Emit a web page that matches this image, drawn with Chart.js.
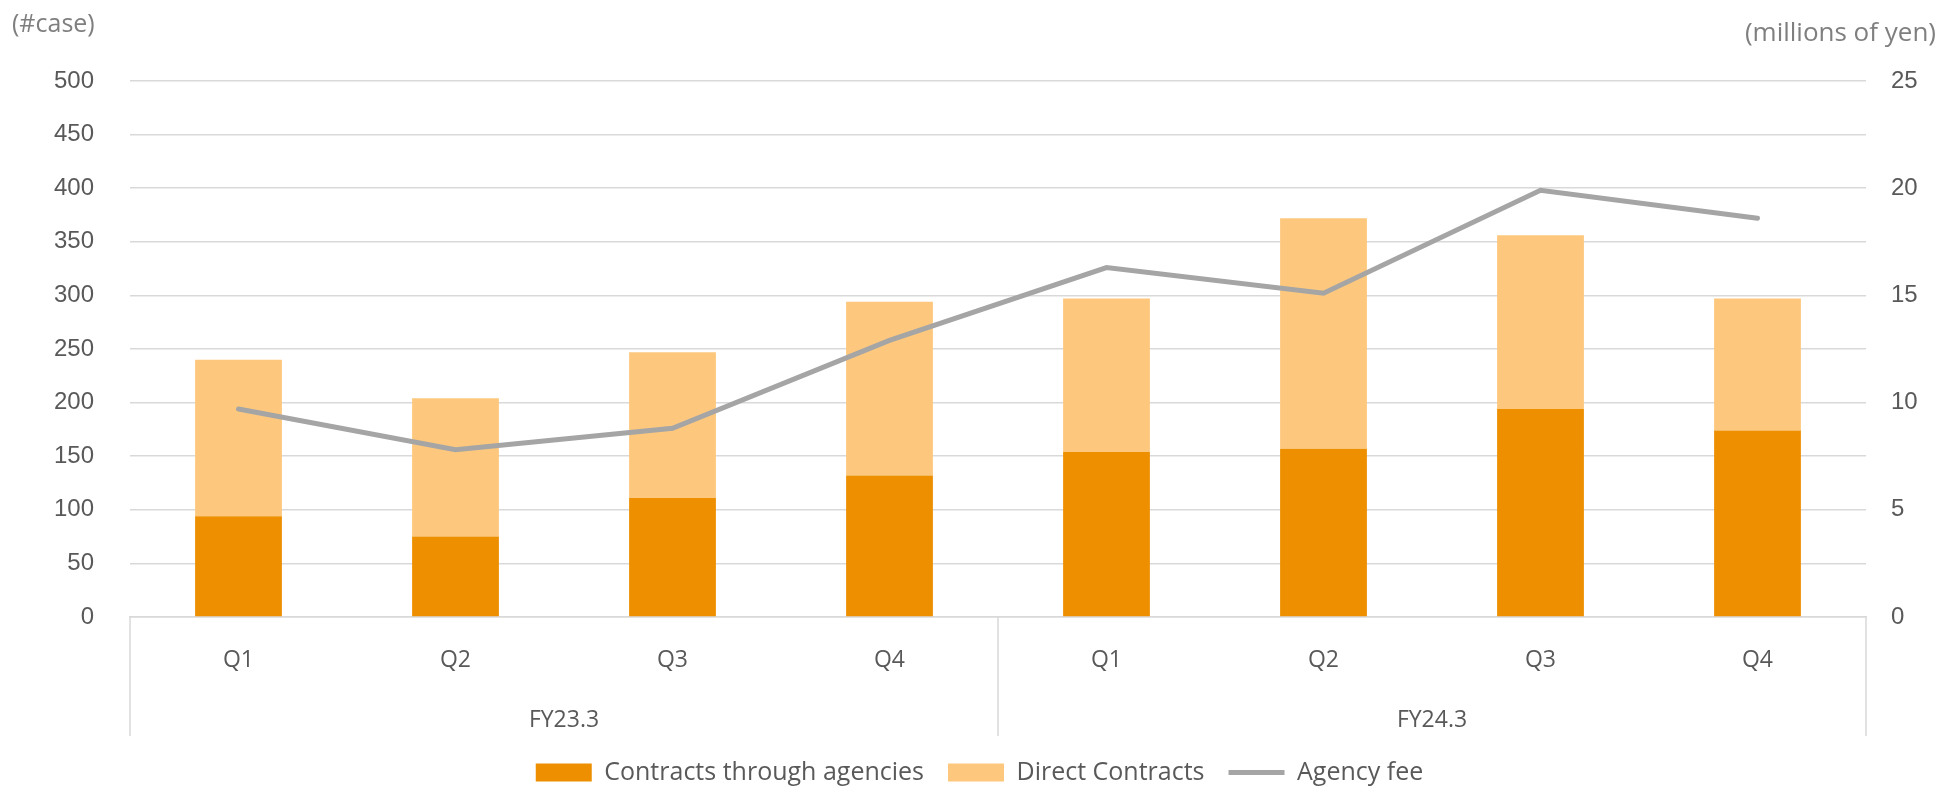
<!DOCTYPE html>
<html>
<head>
<meta charset="utf-8">
<script src="https://cdn.jsdelivr.net/npm/chart.js@4.4.1/dist/chart.umd.min.js"></script>
<style>
  html, body { margin: 0; padding: 0; background: #fff; }
  #wrap { width: 1959px; height: 787px; position: relative; }
</style>
</head>
<body>
<div id="wrap"><canvas id="contractsChart"></canvas></div>
<script>
// Quarterly contract counts and agency fee
const quarters = ['Q1', 'Q2', 'Q3', 'Q4', 'Q1', 'Q2', 'Q3', 'Q4'];
const fiscalYears = ['FY23.3', 'FY24.3'];
const agencyContracts = [94, 75, 111, 132, 154, 157, 194, 174];
const directContracts = [146, 129, 136, 162, 143, 215, 162, 123];
const agencyFee = [9.7, 7.8, 8.8, 12.9, 16.3, 15.1, 19.9, 18.6];
const caseTicks = [0, 50, 100, 150, 200, 250, 300, 350, 400, 450, 500];
const feeTicks = [0, 5, 10, 15, 20, 25];

const colors = {
  agency: '#EE8F00',
  direct: '#FDC87D',
  fee: '#A5A5A5',
  grid: '#D9D9D9',
  text: '#595959',
  title: '#7F7F7F'
};

const numFont = { family: "'Liberation Sans', Arial, sans-serif", size: 24 };
const labelFont = { family: "'Open Sans', sans-serif", size: 23 };

// group separators under the quarter labels + unit captions
const groupLines = {
  id: 'groupLines',
  afterDraw(chart) {
    const { ctx, chartArea, scales } = chart;
    const x = scales.x;
    const bottom = scales.x2.bottom;
    const mid = (x.getPixelForValue(3) + x.getPixelForValue(4)) / 2;
    ctx.save();
    ctx.strokeStyle = colors.grid;
    ctx.lineWidth = 1.5;
    [x.left, mid, x.right].forEach(px => {
      ctx.beginPath();
      ctx.moveTo(px, chartArea.bottom);
      ctx.lineTo(px, bottom);
      ctx.stroke();
    });
    ctx.fillStyle = colors.title;
    ctx.textBaseline = 'middle';
    ctx.textAlign = 'left';
    ctx.font = "25px 'Open Sans', sans-serif";
    ctx.fillText('(#case)', 12, 25);
    ctx.textAlign = 'right';
    ctx.font = "26px 'Open Sans', sans-serif";
    ctx.fillText('(millions of yen)', 1936, 34);
    ctx.restore();
  }
};

const ctx = document.getElementById('contractsChart').getContext('2d');
new Chart(ctx, {
  type: 'bar',
  data: {
    labels: quarters,
    datasets: [
      {
        label: 'Contracts through agencies',
        data: agencyContracts,
        backgroundColor: colors.agency,
        stack: 'cases',
        pointStyle: 'rect',
        barPercentage: 0.4,
        categoryPercentage: 1,
        order: 1
      },
      {
        label: 'Direct Contracts',
        data: directContracts,
        backgroundColor: colors.direct,
        stack: 'cases',
        pointStyle: 'rect',
        barPercentage: 0.4,
        categoryPercentage: 1,
        order: 1
      },
      {
        type: 'line',
        label: 'Agency fee',
        data: agencyFee,
        yAxisID: 'y1',
        borderColor: colors.fee,
        backgroundColor: colors.fee,
        borderWidth: 5,
        borderCapStyle: 'round',
        pointRadius: 0,
        pointStyle: 'line',
        tension: 0,
        order: 0
      }
    ]
  },
  options: {
    responsive: true,
    maintainAspectRatio: false,
    animation: false,
    layout: {
      padding: { top: 81, left: 0, right: 0, bottom: -8 }
    },
    plugins: {
      tooltip: { enabled: false },
      legend: {
        position: 'bottom',
        labels: {
          usePointStyle: true,
          pointStyleWidth: 56,
          boxHeight: 18,
          padding: 24,
          color: colors.text,
          font: { family: "'Open Sans', sans-serif", size: 25 },
          sort: (a, b) => a.datasetIndex - b.datasetIndex
        }
      }
    },
    scales: {
      x: {
        stacked: true,
        grid: { display: false },
        border: { color: colors.grid, width: 1.5 },
        ticks: { color: colors.text, font: labelFont, padding: 22 },
        afterFit: s => { s.height = 76; }
      },
      x2: {
        type: 'category',
        labels: fiscalYears,
        position: 'bottom',
        offset: true,
        grid: { display: false },
        border: { display: false },
        ticks: { color: colors.text, font: labelFont, padding: 6 },
        afterFit: s => { s.height = 43; }
      },
      y: {
        stacked: true,
        min: 0,
        max: 500,
        afterBuildTicks: s => { s.ticks = caseTicks.map(v => ({ value: v })); },
        grid: { color: colors.grid, lineWidth: 1.5, drawTicks: false },
        border: { display: false },
        ticks: { color: colors.text, font: numFont, padding: 36 },
        afterFit: s => { s.width = 130; }
      },
      y1: {
        position: 'right',
        min: 0,
        max: 25,
        afterBuildTicks: s => { s.ticks = feeTicks.map(v => ({ value: v })); },
        grid: { display: false, drawTicks: false },
        border: { display: false },
        ticks: { color: colors.text, font: numFont, padding: 25 },
        afterFit: s => { s.width = 93; }
      }
    }
  },
  plugins: [groupLines]
});
</script>
</body>
</html>
